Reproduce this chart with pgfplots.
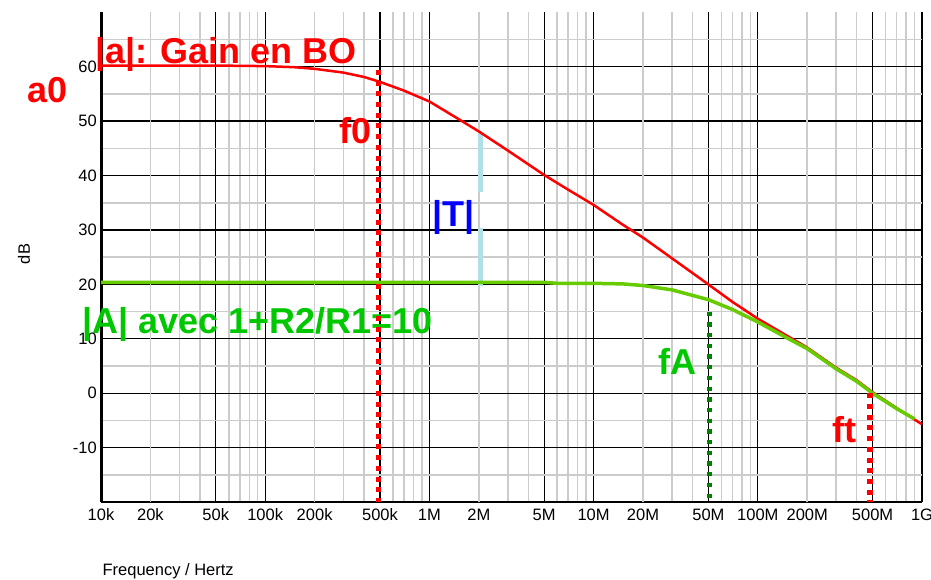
\documentclass[border=0pt]{standalone}
\usepackage{pgfplots}
\pgfplotsset{compat=1.18}
\usepackage{fontspec}
\setmainfont{Liberation Sans}
\definecolor{curvegreen}{RGB}{102,204,0}
\definecolor{textgreen}{RGB}{0,200,0}
\definecolor{dotgreen}{RGB}{0,128,0}
\definecolor{lightblue}{RGB}{176,224,230}
\definecolor{pred}{RGB}{255,0,0}
\begin{document}
\begin{tikzpicture}
\path[use as bounding box] (-101pt,-76.8pt) rectangle (830pt,502.2pt);
\begin{axis}[
  at={(0,0)}, anchor=south west,
  scale only axis, width=821pt, height=490pt,
  xmode=log, xmin=1e4, xmax=1e9, ymin=-20, ymax=70,
  axis lines*=left, axis line style={-},
  x axis line style={line width=2pt},
  y axis line style={line width=3pt},
  xtick={1e4,5e4,1e5,5e5,1e6,5e6,1e7,5e7,1e8,5e8,1e9},
  xticklabels={10k,50k,100k,500k,1M,5M,10M,50M,100M,500M,1G},
  extra x ticks={2e4,2e5,2e6,2e7,2e8},
  extra x tick labels={20k,200k,2M,20M,200M},
  extra x tick style={grid=major, major grid style={gray!40, line width=1.5pt}},
  minor xtick={3e4,4e4,6e4,7e4,8e4,9e4,3e5,4e5,6e5,7e5,8e5,9e5,3e6,4e6,6e6,7e6,8e6,9e6,3e7,4e7,6e7,7e7,8e7,9e7,3e8,4e8,6e8,7e8,8e8,9e8},
  ytick={-10,0,10,20,30,40,50,60},
  yticklabels={-10,0,10,20,30,40,50,60},
  minor ytick={-15,-5,5,15,25,35,45,55,65},
  grid=both,
  major grid style={black, line width=1.2pt},
  minor grid style={gray!40, line width=1.5pt},
  major tick length=0pt, minor tick length=0pt,
  tick label style={font=\fontsize{16.5}{20}\selectfont},
  xticklabel style={inner sep=0pt, yshift=-6.5pt},
  yticklabel style={inner sep=0pt, xshift=-4pt},
  clip=false,
]
% texts
\node[anchor=base west, inner sep=0pt, text=pred, font=\fontsize{36}{40}\selectfont\bfseries] at (axis cs:9.19e3,60.6) {|a|: Gain en BO};
\node[anchor=base west, inner sep=0pt, text=pred, font=\fontsize{36}{40}\selectfont\bfseries] at (axis cs:3.54e3,53.4) {a0};
\node[anchor=base east, inner sep=0pt, text=pred, font=\fontsize{36}{40}\selectfont\bfseries] at (axis cs:4.47e5,45.9) {f0};
\node[anchor=base west, inner sep=0pt, text=blue, font=\fontsize{36}{40}\selectfont\bfseries] at (axis cs:1.037e6,30.7) {|T|};
\node[anchor=base west, inner sep=0pt, text=textgreen, font=\fontsize{36}{40}\selectfont\bfseries] at (axis cs:7.66e3,11.0) {|A| avec 1+R2/R1=10};
\node[anchor=base east, inner sep=0pt, text=textgreen, font=\fontsize{36}{40}\selectfont\bfseries] at (axis cs:4.26e7,3.4) {fA};
\node[anchor=base east, inner sep=0pt, text=pred, font=\fontsize{36}{40}\selectfont\bfseries] at (axis cs:4.02e8,-9.1) {ft};
\node[anchor=base west, inner sep=0pt, font=\fontsize{16.5}{20}\selectfont] at (axis cs:1.02e4,-33.4) {Frequency / Hertz};
\node[anchor=center, inner sep=0pt, rotate=90, font=\fontsize{16.5}{20}\selectfont] at (axis cs:3.4e3,25.6) {dB};
% light blue |T| markers
\addplot[lightblue, line width=5pt] coordinates {(2.05e6,47.8) (2.05e6,37.0)};
\addplot[lightblue, line width=5pt] coordinates {(2.05e6,30.3) (2.05e6,19.8)};
% red open-loop gain
\addplot[pred, line width=2.5pt] coordinates {
(1e4,60.2)(2e4,60.2)(5e4,60.2)(1e5,60.1)(1.5e5,59.9)(2e5,59.6)(3e5,58.9)(4e5,58.1)(5e5,57.2)(7e5,55.6)(1e6,53.6)(1.5e6,50.4)(2e6,48.1)(3e6,44.6)(5e6,40.1)(7e6,37.4)(1e7,34.6)(1.5e7,31.0)(2e7,28.6)(3e7,24.8)(5e7,20.0)(7e7,16.8)(1e8,13.7)(1.5e8,10.6)(2e8,8.4)(3e8,4.7)(4e8,2.4)(5e8,0.2)(7e8,-2.7)(1e9,-5.7)};
% green closed-loop gain
\addplot[curvegreen, line width=3.5pt] coordinates {
(1e4,20.4)(1e6,20.4)(5e6,20.4)(6e6,20.2)(1e7,20.2)(1.5e7,20.1)(2e7,19.8)(3e7,19.0)(5e7,17.2)(7e7,15.4)(1e8,13.1)(1.5e8,10.2)(2e8,8.2)(3e8,4.5)(4e8,2.2)(5e8,0.0)(7e8,-2.8)(9e8,-4.7)};
% dotted markers
\addplot[pred, line width=5.5pt, dash pattern=on 5pt off 5.7pt] coordinates {(4.9e5,59.4) (4.9e5,-20)};
\addplot[dotgreen, line width=5pt, dash pattern=on 4.3pt off 6.4pt] coordinates {(5.1e7,15.0) (5.1e7,-20)};
\addplot[pred, line width=5.5pt, dash pattern=on 5pt off 5.7pt] coordinates {(4.82e8,0) (4.82e8,-20)};
\end{axis}
\end{tikzpicture}
\end{document}
